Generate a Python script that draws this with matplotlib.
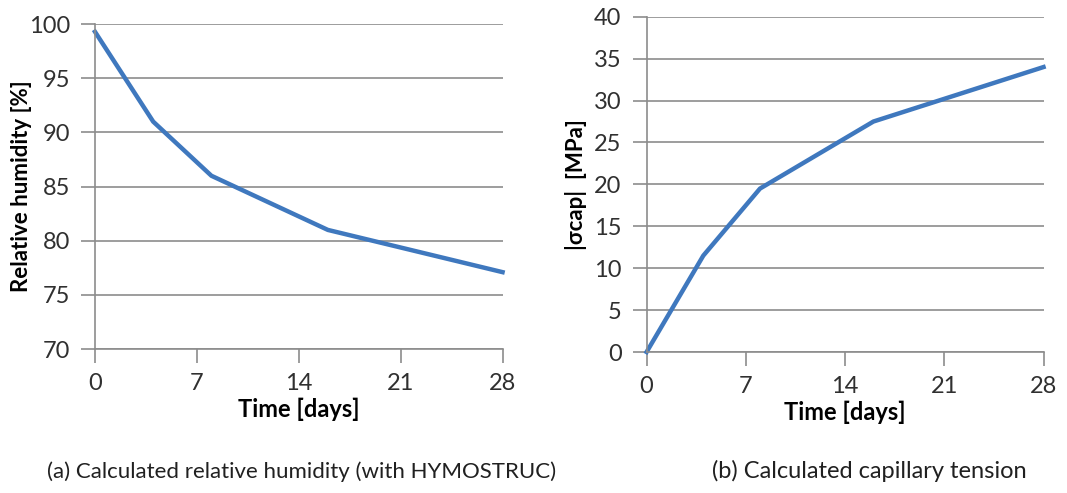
import matplotlib
matplotlib.use("Agg")
import matplotlib.pyplot as plt

# data
days = [0, 4, 8, 16, 28]
humidity = [99.3, 91.0, 86.0, 81.0, 77.1]
cap_tension = [0.0, 11.5, 19.5, 27.5, 34.0]
x_ticks = [0, 7, 14, 21, 28]

plt.rcParams['font.family'] = ['Lato', 'DejaVu Sans']

line_color = '#3f78be'
grid_color = '#8c8c8c'


def style_axis(ax, ylim, ystep, ylabel, label_x):
    ax.set_xlim(0, 28)
    ax.set_ylim(*ylim)
    ax.set_xticks(x_ticks)
    ax.set_yticks(range(ylim[0], ylim[1] + 1, ystep))
    ax.grid(axis='y', color=grid_color, linewidth=1.2)
    ax.set_axisbelow(True)
    for side in ['top', 'right']:
        ax.spines[side].set_visible(False)
    for side in ['left', 'bottom']:
        ax.spines[side].set_color(grid_color)
        ax.spines[side].set_linewidth(1.2)
    ax.tick_params(direction='out', length=10, width=1.2, color=grid_color,
                   labelsize=17, labelcolor='#303030')
    ax.tick_params(axis='x', pad=7)
    ax.tick_params(axis='y', pad=8)
    ax.set_xlabel('Time [days]', fontsize=17, fontweight='bold', labelpad=3)
    ax.set_ylabel(ylabel, fontsize=16, fontweight='bold')
    ax.yaxis.set_label_coords(label_x, 0.5)


fig = plt.figure(figsize=(10.67, 4.93), dpi=100)

ax1 = fig.add_axes([0.089, 0.292, 0.382, 0.659])
ax1.plot(days, humidity, color=line_color, linewidth=3.2, clip_on=False)
style_axis(ax1, (70, 100), 5, 'Relative humidity [%]', -0.154)

ax2 = fig.add_axes([0.606, 0.286, 0.372, 0.680])
ax2.plot(days, cap_tension, color=line_color, linewidth=3.2, clip_on=False)
style_axis(ax2, (0, 40), 5, '|σcap|  [MPa]', -0.151)

fig.text(0.283, 0.022, '(a) Calculated relative humidity (with HYMOSTRUC)',
         ha='center', va='bottom', fontsize=16, color='#202020')
fig.text(0.815, 0.022, '(b) Calculated capillary tension',
         ha='center', va='bottom', fontsize=17, color='#202020')

fig.savefig('out.png', dpi=100)
